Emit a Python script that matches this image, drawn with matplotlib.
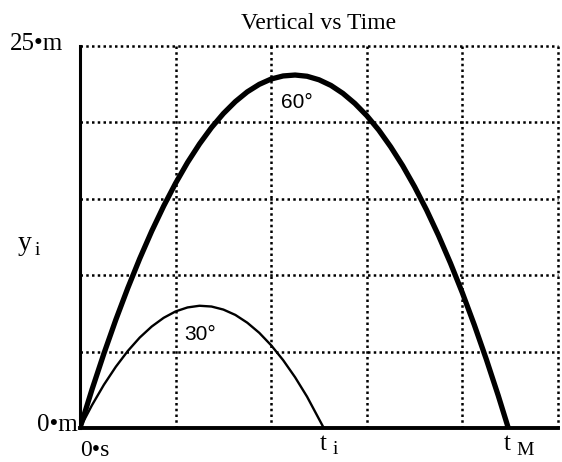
import matplotlib
matplotlib.use("Agg")
import matplotlib.pyplot as plt

# values (time in s, height in m)
t_60 = [0, 0.125, 0.25, 0.375, 0.5, 0.625, 0.75, 0.875, 1.0, 1.125, 1.25,
        1.375, 1.5, 1.625, 1.75, 1.875, 2.0, 2.125, 2.25, 2.375, 2.5,
        2.625, 2.75, 2.875, 3.0, 3.125, 3.25, 3.375, 3.5, 3.625, 3.75,
        3.875, 4.0, 4.125, 4.25, 4.375, 4.48]
y_60 = [0, 2.51, 4.87, 7.09, 9.16, 11.09, 12.88, 14.52, 16.02, 17.38, 18.59,
        19.66, 20.58, 21.36, 22.00, 22.49, 22.84, 23.04, 23.10, 23.02, 22.79,
        22.42, 21.90, 21.24, 20.44, 19.50, 18.40, 17.17, 15.79, 14.27, 12.60,
        10.79, 8.84, 6.74, 4.50, 2.12, 0]

t_30 = [0, 0.125, 0.25, 0.375, 0.5, 0.625, 0.75, 0.875, 1.0, 1.125, 1.25,
        1.375, 1.5, 1.625, 1.75, 1.875, 2.0, 2.125, 2.25, 2.375, 2.55]
y_30 = [0, 1.49, 2.83, 4.01, 5.04, 5.92, 6.64, 7.21, 7.63, 7.89, 8.00,
        7.95, 7.75, 7.40, 6.89, 6.23, 5.41, 4.44, 3.32, 2.05, 0]

x_grid = [1, 2, 3, 4, 5]
y_grid = [5, 10, 15, 20, 25]

plt.rcParams["font.family"] = ["Liberation Serif", "DejaVu Serif"]

fig = plt.figure(figsize=(5.62, 4.62), dpi=100)
ax = fig.add_axes([80 / 562, 1 - 428 / 462, 478 / 562, 382 / 462])
ax.set_xlim(0, 5)
ax.set_ylim(0, 25)

dots = dict(color="black", linewidth=1.8, linestyle=(0, (1, 1.3)), clip_on=False, zorder=1)
for x in x_grid:
    ax.axvline(x, **dots)
for y in y_grid:
    ax.axhline(y, **dots)

ax.plot(t_60, y_60, color="black", linewidth=3.8, solid_joinstyle="round",
        solid_capstyle="round", zorder=3)
ax.plot(t_30, y_30, color="black", linewidth=1.7, solid_joinstyle="round", zorder=3)

ax.text(2.27, 21.3, "60°", fontsize=15, family="Liberation Sans", ha="center", va="center")
ax.text(1.26, 6.1, "30°", fontsize=15, family="Liberation Sans", ha="center", va="center")

for side in ("top", "right"):
    ax.spines[side].set_visible(False)
ax.spines["left"].set_linewidth(2.2)
ax.spines["bottom"].set_linewidth(2.8)
ax.set_xticks([])
ax.set_yticks([])

ax.set_title("Vertical vs Time", fontsize=17, pad=12)

# axis end labels placed like the original
ax.text(-0.18, 25.1, "25•m", fontsize=18, ha="right", va="center")
ax.text(-0.02, 0.2, "0•m", fontsize=18, ha="right", va="center")
ax.text(0.0, -1.45, "0•s", fontsize=17, ha="left", va="center")
ax.text(2.54, -1.05, "t", fontsize=18, ha="center", va="center")
ax.text(2.64, -1.4, "i", fontsize=14, ha="left", va="center")
ax.text(4.47, -1.05, "t", fontsize=18, ha="center", va="center")
ax.text(4.56, -1.5, "M", fontsize=14, ha="left", va="center")
ax.text(-0.58, 12.1, "y", fontsize=20, ha="center", va="center")
ax.text(-0.47, 11.6, "i", fontsize=14, ha="left", va="center")

fig.savefig("out.png", dpi=100)
